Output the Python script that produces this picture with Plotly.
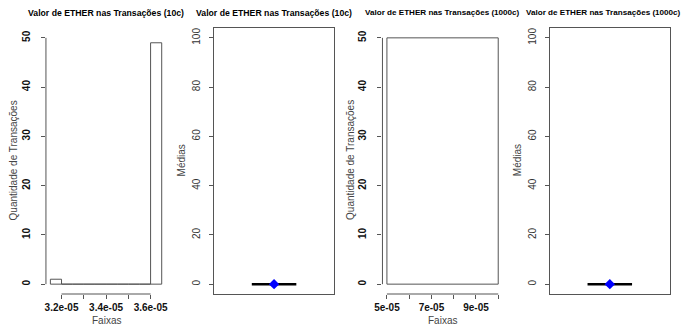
import plotly.graph_objects as go

# ---- data ----
breaks_10c = [3.15e-05, 3.20e-05, 3.25e-05, 3.30e-05, 3.35e-05, 3.40e-05,
              3.45e-05, 3.50e-05, 3.55e-05, 3.60e-05, 3.65e-05]
counts_10c = [1, 0, 0, 0, 0, 0, 0, 0, 0, 49]
breaks_1000c = [5e-05, 1e-04]
counts_1000c = [50]

xticks_10c = [3.2e-05, 3.3e-05, 3.4e-05, 3.5e-05, 3.6e-05]
xtext_10c = ["3.2e-05", "", "3.4e-05", "", "3.6e-05"]
xticks_1000c = [5e-05, 6e-05, 7e-05, 8e-05, 9e-05, 1e-04]
xtext_1000c = ["5e-05", "", "7e-05", "", "9e-05", ""]
yticks_hist = [0, 10, 20, 30, 40, 50]
yticks_mean = [0, 20, 40, 60, 80, 100]

median_10c = 3.6e-05
mean_10c = 3.6e-05
median_1000c = 5e-05
mean_1000c = 5e-05

title_10c = "Valor de ETHER nas Transações (10c)"
title_1000c = "Valor de ETHER nas Transações (1000c)"

# ---- layout geometry (pixels) ----
W, H = 686, 326
TOP, BOTTOM = 28, 294
panels_px = [(38.5, 160.5), (209, 331), (380, 502), (549.7, 671.7)]
ydom = [(H - BOTTOM) / H, (H - TOP) / H]

LINE = "#555555"
FONT = "Liberation Sans, Arial, sans-serif"

fig = go.Figure()


def hist_outline(breaks, counts):
    xs, ys = [], []
    for i, c in enumerate(counts):
        x0, x1 = breaks[i], breaks[i + 1]
        xs += [x0, x0, x1, x1, x0, None]
        ys += [0, c, c, 0, 0, None]
    return xs, ys


def ext(lo, hi, f=0.04):
    d = (hi - lo) * f
    return [lo - d, hi + d]


# panel 1: histogram 10c
xs, ys = hist_outline(breaks_10c, counts_10c)
fig.add_trace(go.Scatter(x=xs, y=ys, mode="lines", line=dict(color=LINE, width=1),
                         xaxis="x", yaxis="y", hoverinfo="skip"))
# panel 2: mean 10c
fig.add_trace(go.Scatter(x=[0.8, 1.2], y=[median_10c, median_10c], mode="lines",
                         line=dict(color="black", width=2.5), xaxis="x2", yaxis="y2"))
fig.add_trace(go.Scatter(x=[1], y=[mean_10c], mode="markers",
                         marker=dict(color="blue", size=8, symbol="diamond"),
                         xaxis="x2", yaxis="y2"))
# panel 3: histogram 1000c
xs, ys = hist_outline(breaks_1000c, counts_1000c)
fig.add_trace(go.Scatter(x=xs, y=ys, mode="lines", line=dict(color=LINE, width=1),
                         xaxis="x3", yaxis="y3", hoverinfo="skip"))
# panel 4: mean 1000c
fig.add_trace(go.Scatter(x=[0.8, 1.2], y=[median_1000c, median_1000c], mode="lines",
                         line=dict(color="black", width=2.5), xaxis="x4", yaxis="y4"))
fig.add_trace(go.Scatter(x=[1], y=[mean_1000c], mode="markers",
                         marker=dict(color="blue", size=8, symbol="diamond"),
                         xaxis="x4", yaxis="y4"))

bold_tick = dict(family=FONT, size=10, color="#111111", weight="bold")
norm_tick = dict(family=FONT, size=10, color="#333333")

common = dict(showgrid=False, zeroline=False, ticks="outside", ticklen=4,
              tickcolor=LINE, tickwidth=1, fixedrange=True)

layout = dict(width=W, height=H, margin=dict(l=0, r=0, t=0, b=0),
              paper_bgcolor="white", plot_bgcolor="white", showlegend=False)

hist_specs = [(1, breaks_10c, xticks_10c, xtext_10c), (3, breaks_1000c, xticks_1000c, xtext_1000c)]
for idx, brk, tv, tt in hist_specs:
    sfx = "" if idx == 1 else str(idx)
    x0, x1 = panels_px[idx - 1]
    layout["xaxis" + sfx] = dict(common, domain=[x0 / W, x1 / W], anchor="y" + sfx,
                                 range=ext(brk[0], brk[-1]), tickvals=tv, ticktext=tt,
                                 tickfont=bold_tick, showline=False)
    layout["yaxis" + sfx] = dict(common, domain=ydom, anchor="x" + sfx,
                                 range=ext(0, max(yticks_hist)), tickvals=yticks_hist,
                                 tickangle=-90, tickfont=bold_tick, showline=False,
                                 ticklabelstandoff=7)

for idx in (2, 4):
    sfx = str(idx)
    x0, x1 = panels_px[idx - 1]
    layout["xaxis" + sfx] = dict(common, domain=[x0 / W, x1 / W], anchor="y" + sfx,
                                 range=ext(0.5, 1.5), showticklabels=False, ticks="",
                                 showline=True, mirror=True, linecolor=LINE, linewidth=1)
    layout["yaxis" + sfx] = dict(common, domain=ydom, anchor="x" + sfx,
                                 range=ext(0, max(yticks_mean)), tickvals=yticks_mean,
                                 tickangle=-90, tickfont=norm_tick,
                                 showline=True, mirror=True, linecolor=LINE, linewidth=1,
                                 ticklabelstandoff=5)

fig.update_layout(**layout)

# axis lines for the histograms (span first to last tick, R style)
shapes = []
for idx, _, tv, _ in hist_specs:
    sfx = "" if idx == 1 else str(idx)
    shapes.append(dict(type="line", xref="x" + sfx + " domain", yref="y" + sfx,
                       x0=0, x1=0, y0=min(yticks_hist), y1=max(yticks_hist),
                       line=dict(color=LINE, width=1)))
    shapes.append(dict(type="line", xref="x" + sfx, yref="y" + sfx + " domain",
                       x0=min(tv), x1=max(tv), y0=0, y1=0,
                       line=dict(color=LINE, width=1)))
fig.update_layout(shapes=shapes)

# titles and axis labels
ann = []
titles = [title_10c, title_10c, title_1000c, title_1000c]
title_sizes = [8.7, 8.7, 8.1, 8.1]
ylabels = ["Quantidade de Transações", "Médias", "Quantidade de Transações", "Médias"]
for i, (x0, x1) in enumerate(panels_px):
    cx = (x0 + x1) / 2
    if i == 3:
        tx, tanchor = 685 / W, "right"
    else:
        tx, tanchor = cx / W, "center"
    ann.append(dict(text=titles[i], x=tx, y=(H - 13) / H, xref="paper", yref="paper",
                    showarrow=False, xanchor=tanchor, yanchor="middle",
                    font=dict(family=FONT, size=title_sizes[i], color="black", weight="bold")))
    ann.append(dict(text=ylabels[i], x=(x0 - 33) / W, y=(H - 160) / H,
                    xref="paper", yref="paper", showarrow=False, textangle=-90,
                    xanchor="center", yanchor="middle",
                    font=dict(family=FONT, size=10, color="#444444")))
    if i in (0, 2):
        ann.append(dict(text="Faixas", x=cx / W, y=(H - 320) / H, xref="paper", yref="paper",
                        showarrow=False, xanchor="center", yanchor="middle",
                        font=dict(family=FONT, size=10, color="#444444")))
fig.update_layout(annotations=ann)

fig.write_html("out.html")
